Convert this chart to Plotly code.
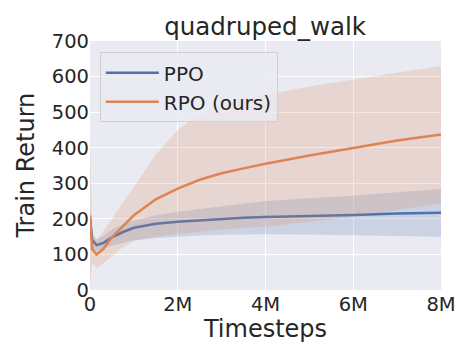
import plotly.graph_objects as go

# Timesteps in millions
steps = [0, 0.05, 0.15, 0.3, 0.5, 0.75, 1.0, 1.5, 2.0, 2.5, 3.0, 3.5, 4.0, 5.0, 6.0, 7.0, 8.0]

ppo_mean = [205, 140, 126, 132, 148, 163, 175, 186, 192, 196, 201, 203, 205, 207, 211, 215, 217]
ppo_hi = [235, 160, 142, 152, 170, 185, 195, 210, 220, 228, 235, 242, 250, 258, 265, 275, 284]
ppo_lo = [170, 118, 110, 115, 125, 133, 140, 146, 150, 153, 155, 156, 157, 156, 154, 152, 150]

rpo_mean = [210, 115, 100, 115, 148, 180, 210, 255, 285, 310, 328, 342, 355, 378, 400, 420, 437]
rpo_hi = [440, 150, 140, 165, 200, 245, 290, 380, 450, 495, 522, 537, 548, 572, 592, 612, 630]
rpo_lo = [10, 75, 62, 75, 95, 120, 138, 150, 158, 165, 170, 175, 178, 192, 205, 225, 244]

x_ticks = [0, 2, 4, 6, 8]
x_tick_labels = ["0", "2M", "4M", "6M", "8M"]
y_ticks = [0, 100, 200, 300, 400, 500, 600, 700]

BLUE = "#4C72B0"
ORANGE = "#DD8452"
TEXT = "#262626"

fig = go.Figure()


def add_series(name, mean, lo, hi, color, fill):
    fig.add_trace(go.Scatter(x=steps, y=lo, mode="lines", line={"width": 0},
                             legendgroup=name, showlegend=False, hoverinfo="skip"))
    fig.add_trace(go.Scatter(x=steps, y=hi, mode="lines", line={"width": 0},
                             fill="tonexty", fillcolor=fill, legendgroup=name,
                             showlegend=False, hoverinfo="skip"))
    fig.add_trace(go.Scatter(x=steps, y=mean, mode="lines", name=name,
                             legendgroup=name,
                             line={"color": color, "width": 2.5}))


add_series("PPO", ppo_mean, ppo_lo, ppo_hi, BLUE, "rgba(76,114,176,0.2)")
add_series("RPO (ours)", rpo_mean, rpo_lo, rpo_hi, ORANGE, "rgba(221,132,82,0.2)")

# page body has an 8px default margin, so offsets are compensated here
fig.update_layout(
    width=470, height=360,
    margin={"l": 82, "r": 37, "t": 33, "b": 78},
    paper_bgcolor="white", plot_bgcolor="#EAEAF2",
    font={"family": "DejaVu Sans", "color": TEXT, "size": 19.5},
    title={"text": "quadruped_walk", "x": 0.547, "xanchor": "center",
           "y": 0.95, "yanchor": "middle", "font": {"size": 24.5}},
    legend={"x": 0.028, "y": 0.955, "xanchor": "left", "yanchor": "top",
            "traceorder": "normal", "tracegroupgap": 3, "itemwidth": 53,
            "bgcolor": "rgba(234,234,242,0.8)", "bordercolor": "#D0D0D0",
            "borderwidth": 1, "font": {"size": 20}},
    showlegend=True,
    annotations=[{"text": "Train Return", "textangle": -90, "showarrow": False,
                  "xref": "paper", "yref": "paper", "x": -0.185, "y": 0.5,
                  "xanchor": "center", "yanchor": "middle",
                  "font": {"size": 24}}],
)
fig.update_xaxes(range=[0, 8], tickvals=x_ticks, ticktext=x_tick_labels,
                 showgrid=True, gridcolor="white", gridwidth=1, zeroline=False,
                 automargin=False, ticks="",
                 title={"text": "Timesteps", "font": {"size": 24}, "standoff": 0})
fig.update_yaxes(range=[0, 700], tickvals=y_ticks,
                 showgrid=True, gridcolor="white", gridwidth=1, zeroline=False,
                 automargin=False, ticks="")

fig.write_html("out.html")
